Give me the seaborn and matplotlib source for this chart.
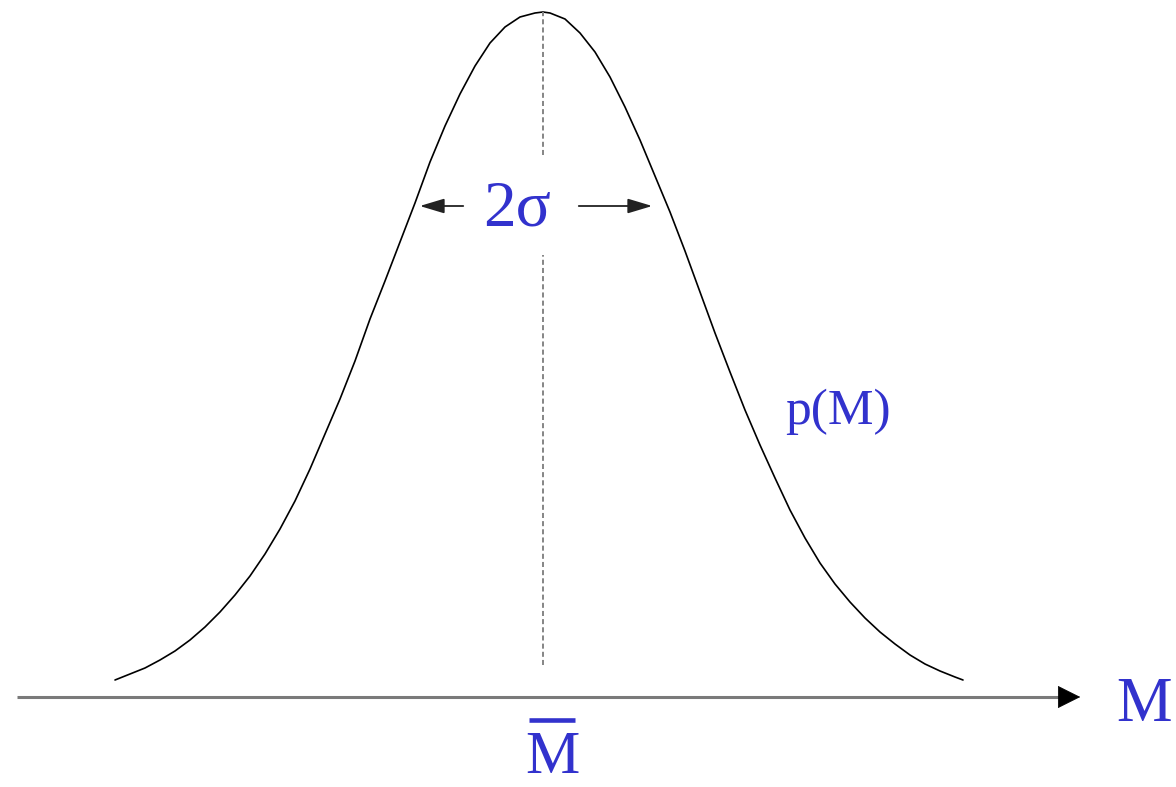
import matplotlib
matplotlib.use("Agg")
import matplotlib.pyplot as plt
import seaborn as sns
import pandas as pd

# ── Dados (M = posição horizontal, p = altura acima do eixo) ──
M_vals = [115, 130, 145, 160, 175, 190, 205, 220, 235, 250, 265, 280, 295, 310,
          325, 340, 355, 370, 385, 400, 415, 430, 445, 460, 475, 490, 505, 520,
          535, 543, 550, 565, 580, 595, 610, 625, 640, 655, 670, 685, 700, 715,
          730, 745, 760, 775, 790, 805, 820, 835, 850, 865, 880, 895, 910, 925,
          940, 955, 963]
p_vals = [17, 23, 29, 37, 46, 57, 70, 85, 102, 121, 143, 168, 196, 228,
          263, 298, 336, 378, 416, 455, 494, 535, 571, 603, 631, 654, 670, 680,
          684, 685, 684, 678, 664, 645, 620, 590, 557, 521, 485, 446, 405, 364,
          325, 287, 252, 219, 187, 159, 134, 113, 95, 79, 65, 53, 42, 33,
          26, 20, 17]

M_mean = 543            # posição de M barra
sigma_left = 417        # pontas das setas de 2σ
sigma_right = 655
sigma_level = 491

df = pd.DataFrame({"M": M_vals, "p": p_vals})

# ── Configurações visuais ─────────────────────────────────────────────────────
sns.set_theme(style="white")
plt.rcParams.update({
    "font.family": ["Liberation Serif", "DejaVu Serif"],
    "figure.facecolor": "white",
    "axes.facecolor": "white",
})
AZUL = "#3232CD"

fig = plt.figure(figsize=(11.76, 7.87), dpi=100)
ax = fig.add_axes([0, 0, 1, 1])
ax.set_xlim(0, 1176)
ax.set_ylim(-90, 697)
ax.axis("off")

# curva p(M)
sns.lineplot(data=df, x="M", y="p", ax=ax, color="black", linewidth=1.2,
             estimator=None, sort=False)

# linha tracejada na média (com espaço para o texto 2σ)
for y0, y1 in [(32, 442), (542, 685)]:
    ax.plot([M_mean, M_mean], [y0, y1], color="#858585", linewidth=1.4,
            linestyle=(0, (2.6, 1.6)))

# eixo M com seta
ax.plot([17, 1066], [0, 0], color="#7a7a7a", linewidth=2.2, solid_capstyle="butt")
ax.annotate("", xy=(1083, 0), xytext=(1064, 0),
            arrowprops=dict(arrowstyle="-|>,head_length=0.4,head_width=0.2",
                            mutation_scale=38, color="black", lw=0.5))

# setas de 2σ
seta = dict(arrowstyle="-|>,head_length=0.5,head_width=0.15",
            mutation_scale=30, color="#222222", lw=1.3)
ax.annotate("", xy=(sigma_left, sigma_level), xytext=(466, sigma_level), arrowprops=seta)
ax.annotate("", xy=(sigma_right, sigma_level), xytext=(576, sigma_level), arrowprops=seta)

# textos
ax.text(517, 487, "2σ", color=AZUL, fontsize=47, ha="center", va="center")
ax.text(838, 285, "p(M)", color=AZUL, fontsize=37, ha="center", va="center")
ax.text(1144, -24, "M", color=AZUL, fontsize=45, ha="center", va="baseline")
ax.text(552, -89, "M", color=AZUL, fontsize=44, ha="center", va="bottom")
ax.plot([529, 575], [-23, -23], color=AZUL, linewidth=3.3, solid_capstyle="butt")

fig.savefig("out.png", dpi=100)
plt.close(fig)
